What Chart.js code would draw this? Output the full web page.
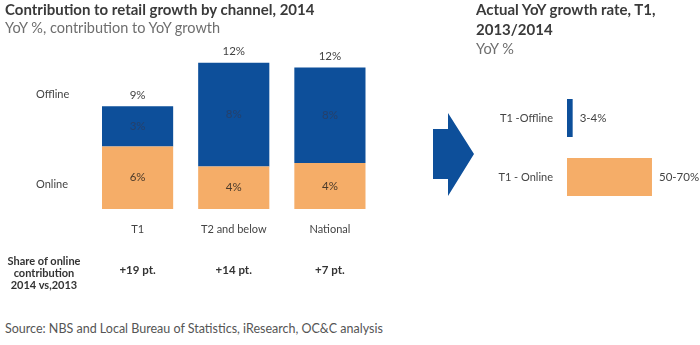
<!DOCTYPE html>
<html>
<head>
<meta charset="utf-8">
<script src="https://cdn.jsdelivr.net/npm/chart.js@4.4.1/dist/chart.umd.min.js"></script>
<style>
  html, body { margin:0; padding:0; background:#fff; }
  body { width:700px; height:345px; position:relative; overflow:hidden; font-family: Lato, "Open Sans", sans-serif; }
  .abs { position:absolute; white-space:nowrap; }
  #leftWrap { position:absolute; left:0; top:0; width:420px; height:300px; }
  #rightWrap { position:absolute; left:420px; top:0; width:280px; height:250px; }
  .title { font-weight:bold; font-size:15px; color:#3a3a3a; }
  .sub { font-size:14.5px; color:#6e6e6e; }
  .row { font-size:11px; color:#444; line-height:14px; }
</style>
</head>
<body>
<div id="leftWrap"><canvas id="left"></canvas></div>
<div id="rightWrap"><canvas id="right"></canvas></div>

<div class="abs title" style="left:5px; top:0px; line-height:18px;">Contribution to retail growth by channel, 2014</div>
<div class="abs sub" style="left:5px; top:19px; line-height:18px;">YoY %, contribution to YoY growth</div>

<div class="abs" style="left:476px; top:0px; line-height:19.5px;">
  <div class="title">Actual YoY growth rate, T1,</div>
  <div class="title">2013/2014</div>
  <div class="sub">YoY %</div>
</div>

<div class="abs row" id="rowOff" style="left:36px; top:87px;"></div>
<div class="abs row" id="rowOn" style="left:36px; top:177px;"></div>

<div class="abs" id="shareTitle" style="left:4px; width:80px; top:255px; text-align:center; font-weight:bold; font-size:11px; line-height:12px; color:#333; white-space:normal;">Share of online<br>contribution<br>2014 vs,2013</div>

<div class="abs" style="left:5px; top:321px; font-size:12.5px; line-height:16px; color:#555;">Source: NBS and Local Bureau of Statistics, iResearch, OC&amp;C analysis</div>

<svg class="abs" style="left:0; top:0;" width="700" height="345" pointer-events="none">
  <polygon points="433,129 448,129 448,113 474,154 448,196 448,179 433,179" fill="#0D4F9A"/>
</svg>

<script>
// ---- Data ----
const categories = ['T1', 'T2 and below', 'National'];
const onlineValues = [5.3, 3.6, 3.9];
const offlineValues = [3.4, 8.8, 8.1];
const onlineLabels = ['6%', '4%', '4%'];
const offlineLabels = ['3%', '8%', '8%'];
const totalLabels = ['9%', '12%', '12%'];
const shareLabels = ['+19 pt.', '+14 pt.', '+7 pt.'];
const rowLabels = ['Offline', 'Online'];

const t1Categories = ['T1 -Offline', 'T1 - Online'];
const t1Values = [4, 60];
const t1Labels = ['3-4%', '50-70%'];

const BLUE = '#0D4F9A';
const ORANGE = '#F5AD68';
const FONT = 'Lato, "Open Sans", sans-serif';

document.getElementById('rowOff').textContent = rowLabels[0];
document.getElementById('rowOn').textContent = rowLabels[1];

const leftLabels = {
  id: 'leftLabels',
  afterDatasetsDraw(chart) {
    const ctx = chart.ctx;
    const yS = chart.scales.y;
    const onMeta = chart.getDatasetMeta(0);
    const offMeta = chart.getDatasetMeta(1);
    ctx.save();
    ctx.textAlign = 'center';
    ctx.textBaseline = 'middle';
    ctx.font = '11.5px ' + FONT;
    categories.forEach((c, i) => {
      const on = onMeta.data[i], off = offMeta.data[i];
      ctx.fillStyle = '#4a3a2a';
      ctx.fillText(onlineLabels[i], on.x, (on.y + on.base) / 2);
      ctx.fillStyle = '#25406b';
      ctx.fillText(offlineLabels[i], off.x, (off.y + off.base) / 2);
      const top = yS.getPixelForValue(onlineValues[i] + offlineValues[i]);
      ctx.fillStyle = '#444';
      ctx.fillText(totalLabels[i], on.x, top - 11);
    });
    ctx.font = 'bold 11.5px ' + FONT;
    ctx.fillStyle = '#333';
    categories.forEach((c, i) => {
      ctx.fillText(shareLabels[i], onMeta.data[i].x, 270);
    });
    ctx.restore();
  }
};

new Chart(document.getElementById('left'), {
  type: 'bar',
  data: {
    labels: categories,
    datasets: [
      { label: 'Online', data: onlineValues, backgroundColor: ORANGE, barPercentage: 0.74, categoryPercentage: 1 },
      { label: 'Offline', data: offlineValues, backgroundColor: BLUE, barPercentage: 0.74, categoryPercentage: 1 }
    ]
  },
  options: {
    responsive: true,
    maintainAspectRatio: false,
    animation: false,
    events: [],
    layout: { padding: { left: 89.5, right: 42, top: 55.6, bottom: 61 } },
    plugins: { legend: { display: false }, tooltip: { enabled: false } },
    scales: {
      x: {
        stacked: true,
        grid: { display: false, drawTicks: false },
        border: { display: false },
        ticks: { color: '#444', font: { family: FONT, size: 11 }, padding: 14 },
        afterFit(scale) { scale.height = 30; }
      },
      y: { stacked: true, display: false, min: 0, max: 13 }
    }
  },
  plugins: [leftLabels]
});

const rightLabels = {
  id: 'rightLabels',
  afterDatasetsDraw(chart) {
    const ctx = chart.ctx;
    const meta = chart.getDatasetMeta(0);
    ctx.save();
    ctx.textAlign = 'left';
    ctx.textBaseline = 'middle';
    ctx.font = '11.5px ' + FONT;
    ctx.fillStyle = '#444';
    meta.data.forEach((el, i) => {
      ctx.fillText(t1Labels[i], el.x + 7, el.y);
    });
    ctx.restore();
  }
};

new Chart(document.getElementById('right'), {
  type: 'bar',
  data: {
    labels: t1Categories,
    datasets: [{ data: t1Values, backgroundColor: [BLUE, ORANGE], barPercentage: 0.8, categoryPercentage: 0.805 }]
  },
  options: {
    indexAxis: 'y',
    responsive: true,
    maintainAspectRatio: false,
    animation: false,
    events: [],
    layout: { padding: { left: 0, right: 19.7, top: 88.5, bottom: 43.5 } },
    plugins: { legend: { display: false }, tooltip: { enabled: false } },
    scales: {
      x: { display: false, min: 0, max: 80 },
      y: {
        grid: { display: false, drawTicks: false },
        border: { display: false },
        ticks: { color: '#444', font: { family: FONT, size: 11 }, padding: 14 },
        afterFit(scale) { scale.width = 147; }
      }
    }
  },
  plugins: [rightLabels]
});
</script>
</body>
</html>
